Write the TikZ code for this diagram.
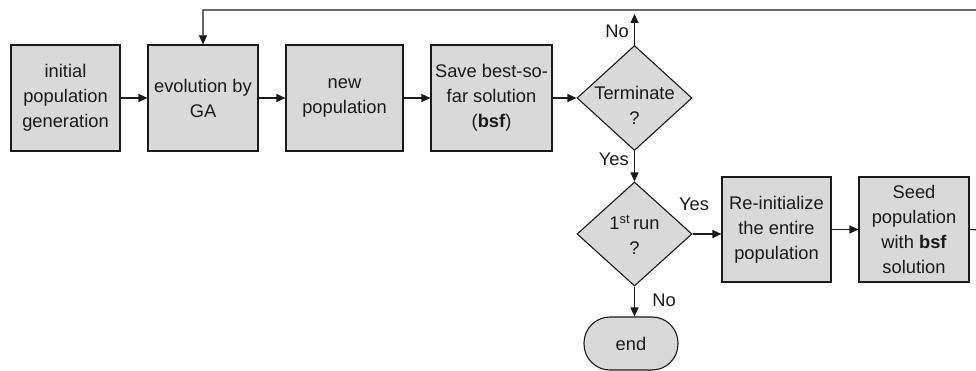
\documentclass[tikz,border=0pt]{standalone}
\usepackage{fontspec}
\setmainfont{Liberation Sans}
\usetikzlibrary{shapes.geometric,arrows.meta}
\definecolor{boxfill}{HTML}{D9D9D9}
\definecolor{linec}{HTML}{1A1A1A}
\begin{document}
\begin{tikzpicture}[x=1pt,y=-1pt,
  every node/.style={font=\fontsize{18.3}{25}\selectfont, text=linec},
  procbox/.style={draw=linec, line width=1.1pt, fill=boxfill, rectangle, align=center, inner sep=0pt},
  decbox/.style={draw=linec, line width=1.1pt, fill=boxfill, diamond, inner sep=0pt, minimum width=115pt, minimum height=105pt},
  endbox/.style={draw=linec, line width=1.1pt, fill=boxfill, rectangle, rounded corners=26pt, minimum width=94pt, minimum height=53pt, inner sep=0pt},
  conn/.style={draw=linec, line width=1.1pt, -{Triangle[length=9pt,width=8pt]}},
  plain/.style={draw=linec, line width=1.1pt},
  lbl/.style={inner sep=0pt}]
\useasboundingbox (0,0) rectangle (976,371);

\node[procbox, minimum width=109pt, minimum height=106pt] (init) at (65.5,98) {initial\\population\\generation};
\node[procbox, minimum width=110pt, minimum height=106pt] (evo) at (203,98) {evolution by\\GA};
\node[procbox, minimum width=117pt, minimum height=106pt] (newp) at (344.5,98) {new\\population};
\node[procbox, minimum width=121pt, minimum height=106pt] (save) at (491.5,98) {Save best-so-\\far solution\\(\textbf{bsf})};
\node[decbox] (term) at (634.5,98) {};
\node[lbl, align=center] (termtxt) at (634.5,105) {Terminate\\?};
\node[decbox, minimum height=104pt] (first) at (634.5,234) {};
\node[lbl, align=center] (firsttxt) at (634.5,234.5) {1\textsuperscript{st}\,run\\?};
\node[procbox, minimum width=109pt, minimum height=105pt] (reinit) at (776.5,229.5) {Re-initialize\\the entire\\population};
\node[procbox, minimum width=110pt, minimum height=105pt] (seed) at (914,229.5) {Seed\\population\\with \textbf{bsf}\\solution};
\node[endbox] (end) at (631,343.5) {end};

\coordinate (noend) at (634.5,14);
\coordinate (r1) at (980,230);
\coordinate (r2) at (980,10);
\coordinate (r3) at (203,10);

\draw[conn] (init) -- (evo);
\draw[conn] (evo) -- (newp);
\draw[conn] (newp) -- (save);
\draw[conn] (save) -- (term.west);
\draw[conn] (term.north) -- (noend);
\draw[conn] (term.south) -- (first.north);
\draw[conn] (first.east) -- (first.east -| reinit.west);
\draw[conn] (reinit) -- (seed);
\draw[conn] (first.south) -- (first.south |- end.north);
\draw[conn] (seed.east) -- (r1) -- (r2) -- (r3) -- (evo.north);

\node[lbl, anchor=east] (lno1) at (629,31) {No};
\node[lbl, anchor=east] (lyes1) at (629,159) {Yes};
\node[lbl] (lyes2) at (694,204) {Yes};
\node[lbl] (lno2) at (664,300) {No};
\end{tikzpicture}
\end{document}
